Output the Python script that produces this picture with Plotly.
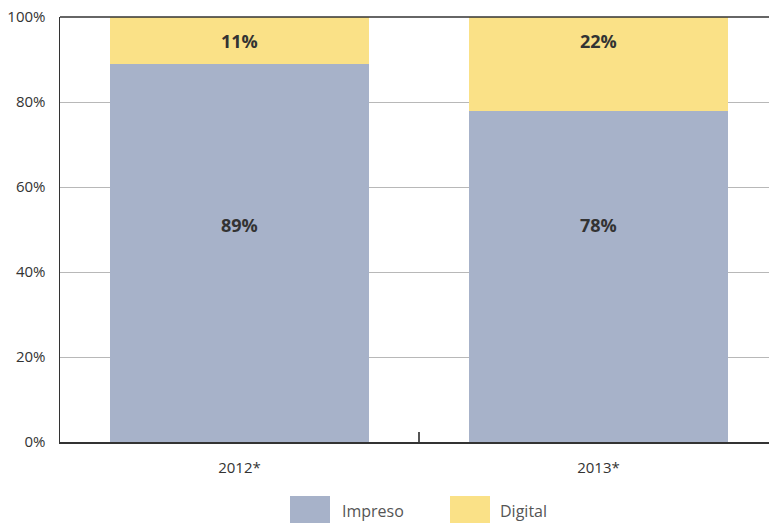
import plotly.graph_objects as go

categories = ["2012*", "2013*"]
impreso = [89, 78]
digital = [11, 22]
y_ticks = [0, 20, 40, 60, 80, 100]
y_tick_labels = ["0%", "20%", "40%", "60%", "80%", "100%"]
series_names = ["Impreso", "Digital"]
colors = ["#a7b2c9", "#fae187"]

FONT = "Open Sans, Noto Sans, sans-serif"

fig = go.Figure()
fig.add_trace(go.Bar(x=categories, y=impreso, name=series_names[0],
                     marker=dict(color=colors[0], line=dict(width=0)),
                     width=0.72, showlegend=False, hoverinfo="skip"))
fig.add_trace(go.Bar(x=categories, y=digital, name=series_names[1],
                     marker=dict(color=colors[1], line=dict(width=0)),
                     width=0.72, showlegend=False, hoverinfo="skip"))

annotations = []
for c, a, b in zip(categories, impreso, digital):
    annotations.append(dict(x=c, y=51, xref="x", yref="y", text=f"<b>{a}%</b>",
                            showarrow=False, font=dict(size=18, color="#333333", family=FONT)))
    annotations.append(dict(x=c, y=94.4, xref="x", yref="y", text=f"<b>{b}%</b>",
                            showarrow=False, font=dict(size=18, color="#333333", family=FONT)))

# custom legend (pixel coords -> paper coords; plot area spans x 60..769, y 17..442)
W = 709.0
H = 425.0
def px(x):
    return (x - 60) / W
def py(y):
    return (442 - y) / H

shapes = []
legend_items = [(290, 340), (450, 498)]
for (bx, tx), name, col in zip(legend_items, series_names, colors):
    shapes.append(dict(type="rect", xref="paper", yref="paper",
                       x0=px(bx), x1=px(bx + 40), y0=py(523), y1=py(496),
                       fillcolor=col, line=dict(width=0)))
    annotations.append(dict(x=px(tx), y=py(511), xref="paper", yref="paper",
                            text=name, showarrow=False, xanchor="left", yanchor="middle",
                            font=dict(size=16, color="#555555", family=FONT)))

# top line
shapes.append(dict(type="line", xref="paper", yref="paper", x0=0, x1=1, y0=1, y1=1,
                   line=dict(color="#333333", width=1.5)))

fig.update_layout(
    width=769, height=523,
    margin=dict(l=60, r=0, t=17, b=81, autoexpand=False),
    barmode="stack",
    plot_bgcolor="white", paper_bgcolor="white",
    font=dict(family=FONT, size=15, color="#333333"),
    annotations=annotations,
    shapes=shapes,
    hovermode=False,
    xaxis=dict(range=[-0.5, 1.475], showline=True, linecolor="#333333", linewidth=2,
               ticks="inside", tickson="boundaries", ticklen=10, tickcolor="#555555",
               tickwidth=1.5, showgrid=False, automargin=False, ticklabelstandoff=11,
               tickfont=dict(size=15, color="#333333")),
    yaxis=dict(range=[0, 100], tickvals=y_ticks, ticktext=y_tick_labels,
               showline=True, linecolor="#333333", linewidth=1.5,
               showgrid=True, gridcolor="#b8b8b8", gridwidth=1, automargin=False,
               ticks="", ticklabelstandoff=10, zeroline=False,
               ticklabeloverflow="allow",
               tickfont=dict(size=15, color="#333333")),
    bargap=0.28,
)

fig.write_html("out.html",
               config={"displayModeBar": False, "staticPlot": True},
               post_script="document.body.style.margin='0';document.body.style.overflow='hidden';")
